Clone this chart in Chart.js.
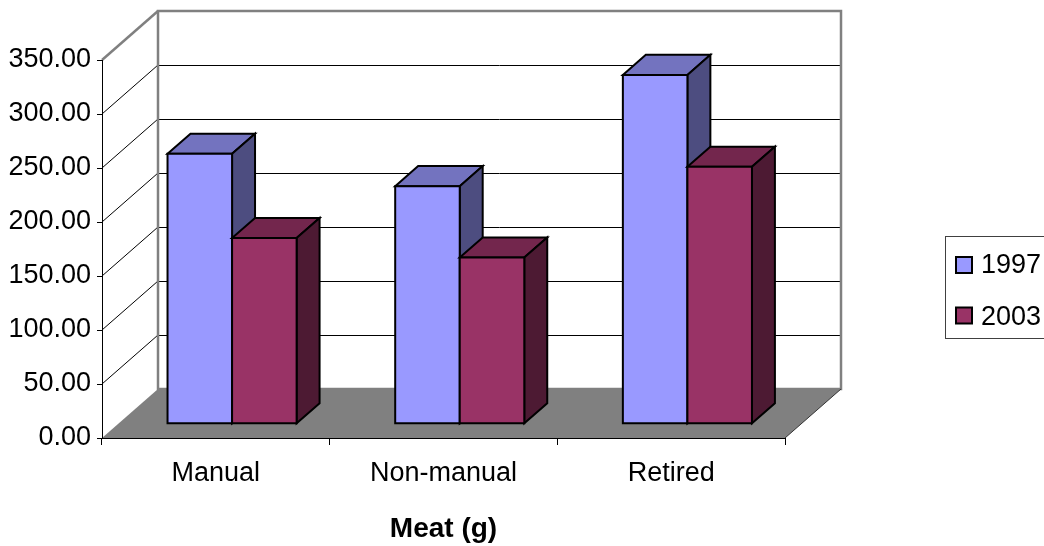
<!DOCTYPE html>
<html>
<head>
<meta charset="utf-8">
<script src="https://cdn.jsdelivr.net/npm/chart.js@4/dist/chart.umd.min.js"></script>
<style>
  html, body { margin: 0; padding: 0; background: #fff; overflow: hidden; }
  canvas { display: block; }
</style>
</head>
<body>
<canvas id="c" width="1044" height="546"></canvas>
<script>
// Meat consumption (g) by occupational group, two survey years
const categories = ['Manual', 'Non-manual', 'Retired'];
const seriesNames = ['1997', '2003'];
const meat1997 = [250, 220, 323];
const meat2003 = [172, 154, 238];
const yTicks = [0, 50, 100, 150, 200, 250, 300, 350];
const axisTitle = 'Meat (g)';

// Shaded faces for the pseudo-3D columns
const faceColors = [
  { front: '#9999FF', top: '#7373BF', side: '#4D4D80' },
  { front: '#993366', top: '#73264D', side: '#4D1A33' }
];

// Oblique depth of the plot box, and where the columns sit within it
const DEPTH_X = 56, DEPTH_Y = 49;
const BAR_FRONT = 0.29, BAR_BACK = 0.70;
const FONT = "'Liberation Sans', Arial, sans-serif";
const TEXT_SIZE = 27;

function poly(ctx, pts) {
  ctx.beginPath();
  ctx.moveTo(pts[0][0], pts[0][1]);
  for (let i = 1; i < pts.length; i++) ctx.lineTo(pts[i][0], pts[i][1]);
  ctx.closePath();
}

// Side wall, back wall and floor of the plot box
const boxPlugin = {
  id: 'box3d',
  beforeDraw(chart) {
    const ctx = chart.ctx;
    const { left: L, right: R, top: T, bottom: B } = chart.chartArea;
    const ys = chart.scales.y;
    ctx.save();
    ctx.fillStyle = '#ffffff';
    poly(ctx, [[L, T], [L + DEPTH_X, T - DEPTH_Y], [L + DEPTH_X, B - DEPTH_Y], [L, B]]);
    ctx.fill();
    ctx.fillRect(L + DEPTH_X, T - DEPTH_Y, R - L, B - T);

    // gridlines on the side and back walls
    ctx.strokeStyle = '#000';
    ctx.lineWidth = 1;
    ys.ticks.forEach(t => {
      if (t.value <= ys.min) return;
      const yf = ys.getPixelForValue(t.value);
      ctx.beginPath();
      ctx.moveTo(L, yf);
      ctx.lineTo(L + DEPTH_X, yf - DEPTH_Y);
      ctx.stroke();
      if (t.value < ys.max) {
        const yb = Math.round(yf - DEPTH_Y) + 0.5;
        ctx.beginPath();
        ctx.moveTo(L + DEPTH_X, yb);
        ctx.lineTo(R + DEPTH_X, yb);
        ctx.stroke();
      }
    });

    // wall outlines
    ctx.strokeStyle = '#808080';
    ctx.lineWidth = 2.5;
    ctx.strokeRect(L + DEPTH_X, T - DEPTH_Y, R - L, B - T);
    ctx.beginPath();
    ctx.moveTo(L, T);
    ctx.lineTo(L + DEPTH_X, T - DEPTH_Y);
    ctx.stroke();

    // floor
    ctx.fillStyle = '#808080';
    poly(ctx, [[L, B], [R, B], [R + DEPTH_X, B - DEPTH_Y], [L + DEPTH_X, B - DEPTH_Y]]);
    ctx.fill();
    ctx.strokeStyle = '#333';
    ctx.lineWidth = 1;
    ctx.beginPath();
    ctx.moveTo(R, B);
    ctx.lineTo(R + DEPTH_X, B - DEPTH_Y);
    ctx.stroke();
    ctx.restore();
  }
};

// Columns drawn as boxes: front, top and right side faces
const columnPlugin = {
  id: 'columns3d',
  beforeDatasetsDraw(chart) {
    const ctx = chart.ctx;
    const fx = DEPTH_X * BAR_FRONT, fy = DEPTH_Y * BAR_FRONT;
    const dx = DEPTH_X * (BAR_BACK - BAR_FRONT), dy = DEPTH_Y * (BAR_BACK - BAR_FRONT);
    const metas = chart.data.datasets.map((_, i) => chart.getDatasetMeta(i));
    ctx.save();
    ctx.strokeStyle = '#000';
    ctx.lineWidth = 2;
    ctx.lineJoin = 'miter';
    for (let i = 0; i < categories.length; i++) {
      metas.forEach((meta, d) => {
        const el = meta.data[i];
        const { x, y, base, width } = el.getProps(['x', 'y', 'base', 'width'], true);
        const x0 = x - width / 2 + fx, x1 = x + width / 2 + fx;
        const yt = y - fy, yb = base - fy;
        const c = faceColors[d];
        ctx.fillStyle = c.top;
        poly(ctx, [[x0, yt], [x1, yt], [x1 + dx, yt - dy], [x0 + dx, yt - dy]]);
        ctx.fill(); ctx.stroke();
        ctx.fillStyle = c.side;
        poly(ctx, [[x1, yt], [x1 + dx, yt - dy], [x1 + dx, yb - dy], [x1, yb]]);
        ctx.fill(); ctx.stroke();
        ctx.fillStyle = c.front;
        poly(ctx, [[x0, yt], [x1, yt], [x1, yb], [x0, yb]]);
        ctx.fill(); ctx.stroke();
      });
    }
    ctx.restore();
    return false;
  }
};

// Boxed legend at the right
const legendPlugin = {
  id: 'boxLegend',
  afterDraw(chart) {
    const ctx = chart.ctx;
    ctx.save();
    ctx.strokeStyle = '#404040';
    ctx.lineWidth = 1;
    ctx.strokeRect(945.5, 236.5, 120, 102);
    ctx.font = TEXT_SIZE + 'px ' + FONT;
    ctx.textBaseline = 'alphabetic';
    ctx.textAlign = 'left';
    chart.data.datasets.forEach((ds, k) => {
      const sy = 257 + k * 50.5;
      ctx.fillStyle = ds.backgroundColor;
      ctx.fillRect(956, sy, 16, 16);
      ctx.strokeStyle = '#000';
      ctx.lineWidth = 2;
      ctx.strokeRect(956, sy, 16, 16);
      ctx.fillStyle = '#000';
      ctx.fillText(ds.label, 981, 273 + k * 51.5);
    });
    ctx.restore();
  }
};

Chart.defaults.font.family = FONT;
Chart.defaults.color = '#000';

new Chart(document.getElementById('c'), {
  type: 'bar',
  data: {
    labels: categories,
    datasets: [
      { label: seriesNames[0], data: meat1997, backgroundColor: faceColors[0].front },
      { label: seriesNames[1], data: meat2003, backgroundColor: faceColors[1].front }
    ]
  },
  options: {
    responsive: false,
    animation: false,
    devicePixelRatio: 1,
    layout: { padding: { left: 0, top: 60, right: 259, bottom: 0 } },
    datasets: { bar: { categoryPercentage: 0.567, barPercentage: 1.0 } },
    plugins: { legend: { display: false }, tooltip: { enabled: false } },
    scales: {
      x: {
        type: 'category',
        offset: true,
        grid: { offset: true, drawOnChartArea: false, tickLength: 7, color: '#000' },
        border: { display: true, color: '#000', width: 1, z: 1 },
        ticks: { font: { size: TEXT_SIZE }, color: '#000', padding: 12, maxRotation: 0 },
        title: { display: true, text: axisTitle, font: { size: 28, weight: 'bold' }, color: '#000', padding: { top: 0, bottom: 0 } },
        afterFit(scale) { scale.height = 108; }
      },
      y: {
        min: yTicks[0],
        max: yTicks[yTicks.length - 1],
        afterBuildTicks(scale) { scale.ticks = yTicks.map(v => ({ value: v })); },
        grid: { drawOnChartArea: false, tickLength: 5, color: '#000' },
        border: { display: true, color: '#000', width: 1, z: 1 },
        ticks: { font: { size: TEXT_SIZE }, color: '#000', padding: 6, callback: v => Number(v).toFixed(2) },
        afterFit(scale) { scale.width = 102; }
      }
    }
  },
  plugins: [boxPlugin, columnPlugin, legendPlugin]
});
</script>
</body>
</html>
